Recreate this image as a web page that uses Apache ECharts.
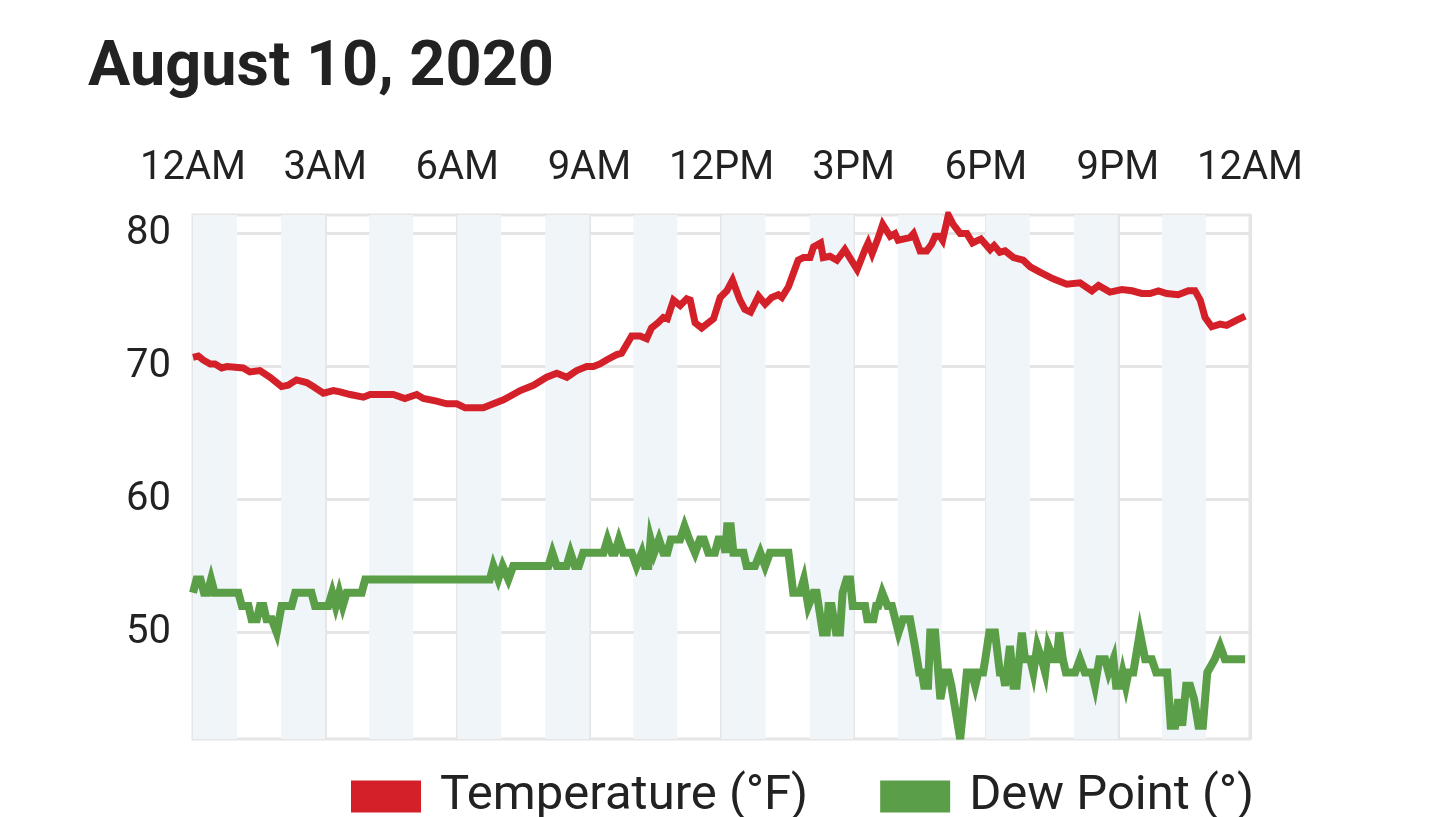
<!DOCTYPE html>
<html lang="en">
<head>
    <meta charset="UTF-8">
    <title>August 10, 2020</title>
    <script src="https://cdn.jsdelivr.net/npm/echarts@6/dist/echarts.min.js"></script>
    <style>
        html, body { margin: 0; padding: 0; background: #fff; }
    </style>
</head>
<body>
    <div id="main" style="width:1438px;height:817px;"></div>
    <script>
    // hour labels along the top axis
    var hourLabels = ['12AM', '3AM', '6AM', '9AM', '12PM', '3PM', '6PM', '9PM', '12AM'];
    var yTicks = [50, 60, 70, 80];

    // temperature (°F), hours since midnight
    var tempHours = [0, 0.12, 0.23, 0.39, 0.5, 0.65, 0.77, 1.14, 1.29, 1.52, 1.75, 2.01, 2.16, 2.35, 2.58, 2.73, 2.96,
        3.19, 3.34, 3.57, 3.87, 4.02, 4.17, 4.55, 4.81, 5.08, 5.23, 5.53, 5.76, 5.99, 6.18, 6.59, 6.82, 7.05, 7.27,
        7.43, 7.73, 8.03, 8.26, 8.49, 8.71, 8.94, 9.09, 9.24, 9.39, 9.62, 9.73, 9.96, 10.15, 10.3, 10.41, 10.56,
        10.68, 10.77, 10.91, 11.06, 11.21, 11.29, 11.4, 11.55, 11.82, 11.97, 12.12, 12.25, 12.42, 12.53, 12.66,
        12.84, 12.99, 13.14, 13.29, 13.37, 13.52, 13.74, 13.86, 14.01, 14.09, 14.25, 14.31, 14.46, 14.62, 14.8,
        14.93, 15.08, 15.26, 15.33, 15.42, 15.56, 15.66, 15.83, 15.94, 16.01, 16.28, 16.36, 16.51, 16.66, 16.77,
        16.85, 16.96, 17.02, 17.15, 17.26, 17.42, 17.57, 17.7, 17.89, 18.1, 18.19, 18.32, 18.44, 18.63, 18.85,
        19.01, 19.23, 19.53, 19.84, 20.14, 20.41, 20.56, 20.82, 21.09, 21.32, 21.54, 21.73, 21.92, 22.11, 22.37,
        22.6, 22.75, 22.87, 22.98, 23.13, 23.32, 23.47, 23.7, 23.89];
    var tempValues = [70.7, 70.8, 70.5, 70.2, 70.2, 69.9, 70.0, 69.9, 69.6, 69.7, 69.2, 68.5, 68.6, 69.0, 68.8, 68.5, 68.0,
        68.2, 68.1, 67.9, 67.7, 67.9, 67.9, 67.9, 67.6, 67.9, 67.6, 67.4, 67.2, 67.2, 66.9, 66.9, 67.2, 67.5, 67.9,
        68.2, 68.6, 69.2, 69.5, 69.2, 69.7, 70.0, 70.0, 70.2, 70.5, 70.9, 71.0, 72.3, 72.3, 72.1, 72.9, 73.3,
        73.7, 73.6, 75.0, 74.6, 75.1, 75.0, 73.3, 72.9, 73.6, 75.2, 75.7, 76.5, 75.0, 74.3, 74.1,
        75.3, 74.7, 75.2, 75.4, 75.2, 76.0, 78.0, 78.2, 78.2, 79.0, 79.3, 78.2, 78.3, 78.0, 78.8,
        78.1, 77.3, 78.8, 79.3, 78.5, 79.7, 80.7, 79.8, 80.0, 79.5, 79.7, 80.0, 78.7, 78.7, 79.2,
        79.8, 79.8, 79.5, 81.4, 80.7, 80.0, 80.0, 79.3, 79.6, 78.8, 79.1, 78.6, 78.7, 78.2, 78.0,
        77.5, 77.1, 76.6, 76.2, 76.3, 75.7, 76.1, 75.6, 75.8, 75.7, 75.5, 75.5, 75.7, 75.5, 75.4,
        75.7, 75.7, 75.0, 73.7, 73.0, 73.2, 73.1, 73.5, 73.8];

    // dew point (°), hours since midnight
    var dewHours = [0, 0.08, 0.17, 0.25, 0.33, 0.41, 0.49, 1.03, 1.11, 1.26, 1.33, 1.45, 1.52, 1.6, 1.67, 1.79, 1.9,
        2.01, 2.24, 2.32, 2.69, 2.77, 3.07, 3.16, 3.24, 3.32, 3.4, 3.49, 3.83, 3.91, 6.74, 6.82, 6.93, 7.03, 7.16,
        7.27, 8.07, 8.16, 8.26, 8.48, 8.57, 8.67, 8.76, 8.86, 9.32, 9.41, 9.51, 9.58, 9.67, 9.77, 9.96, 10.07,
        10.19, 10.26, 10.34, 10.39, 10.47, 10.58, 10.68, 10.77, 10.85, 11.06, 11.16, 11.27, 11.4, 11.51, 11.6,
        11.7, 11.85, 11.93, 12.03, 12.09, 12.13, 12.21, 12.27, 12.5, 12.57, 12.76, 12.88, 12.99, 13.1, 13.52,
        13.63, 13.78, 13.87, 13.97, 14.09, 14.16, 14.3, 14.39, 14.43, 14.5, 14.6, 14.69, 14.75, 14.84, 14.92,
        14.98, 15.26, 15.31, 15.45, 15.51, 15.56, 15.65, 15.77, 15.87, 16.02, 16.12, 16.28, 16.39, 16.49, 16.55,
        16.6, 16.69, 16.74, 16.85, 16.97, 17.08, 17.15, 17.22, 17.42, 17.57, 17.68, 17.76, 17.83, 17.94, 17.99,
        18.08, 18.21, 18.32, 18.39, 18.44, 18.55, 18.63, 18.7, 18.82, 18.89, 19.01, 19.08, 19.17, 19.27, 19.35,
        19.42, 19.54, 19.61, 19.67, 19.75, 19.82, 20.03, 20.14, 20.25, 20.41, 20.48, 20.58, 20.71, 20.79, 20.9,
        20.96, 21.05, 21.11, 21.18, 21.24, 21.35, 21.5, 21.62, 21.77, 21.87, 22.12, 22.2, 22.3, 22.37, 22.46,
        22.55, 22.64, 22.73, 22.83, 22.93, 23.03, 23.2, 23.32, 23.43, 23.89];
    var dewValues = [53, 54, 54, 53, 53, 54, 53, 53, 52, 52, 51, 51, 52, 52, 51, 51, 50,
        52, 52, 53, 53, 52, 52, 53, 52, 53, 52, 53, 53, 54, 54, 55, 54, 55, 54,
        55, 55, 56, 55, 55, 56, 55, 55, 56, 56, 57, 56, 56, 57, 56, 56, 55,
        56, 55, 55, 57, 56, 57, 56, 56, 57, 57, 58, 57, 56, 57, 57,
        56, 56, 57, 57, 56, 58, 58, 56, 56, 55, 55, 56, 55, 56, 56,
        53, 53, 54, 52, 53, 53, 50, 50, 52, 52, 50, 50, 53, 54, 54,
        52, 52, 51, 51, 52, 52, 53, 52, 52, 50, 51, 51, 49, 47, 47,
        46, 46, 50, 50, 45, 47, 47, 46, 42, 47, 47, 46, 47, 47, 48,
        50, 50, 47, 47, 46, 49, 46, 46, 50, 48, 48, 47, 49, 48, 47,
        49, 48, 48, 50, 48, 47, 47, 48, 47, 47, 46, 48, 48, 47, 48,
        46, 46, 47, 46, 47, 47, 50, 48, 48, 47, 47, 43, 43, 45, 43,
        46, 46, 45, 43, 43, 47, 48, 49, 48, 48];

    function zip(xs, ys) {
        return xs.map(function (x, i) { return [x, ys[i]]; });
    }

    var gridColor = '#e5e5e5';
    var font = 'Roboto';

    var myChart = echarts.init(document.getElementById('main'));
    myChart.setOption({
        animation: false,
        backgroundColor: '#fff',
        title: {
            text: 'August 10, 2020',
            left: 83,
            top: 33,
            textStyle: { fontFamily: font, fontSize: 63, fontWeight: 'bold', color: '#222' }
        },
        legend: {
            left: 346,
            top: 767,
            icon: 'rect',
            itemWidth: 70,
            itemHeight: 32,
            itemGap: 72,
            textStyle: { fontFamily: font, fontSize: 49, color: '#222', padding: [14, 0, 0, 14] }
        },
        grid: {
            left: 193,
            right: 188,
            top: 215,
            bottom: 78,
            show: true,
            borderColor: gridColor,
            borderWidth: 3,
            backgroundColor: 'transparent'
        },
        xAxis: [{
            type: 'value',
            position: 'top',
            min: 0,
            max: 24,
            interval: 3,
            axisLine: { show: false },
            axisTick: { show: false },
            axisLabel: {
                fontFamily: font, fontSize: 40, color: '#222', margin: 26,
                formatter: function (v) { return hourLabels[v / 3]; }
            },
            splitLine: { show: true, lineStyle: { color: gridColor, width: 3 } }
        }, {
            // hourly shading bands
            type: 'value',
            position: 'bottom',
            min: 0,
            max: 24,
            interval: 1,
            axisLine: { show: false },
            axisTick: { show: false },
            axisLabel: { show: false },
            splitLine: { show: false },
            splitArea: { show: true, areaStyle: { color: ['#f0f5fa', 'rgba(255,255,255,0)'] } }
        }],
        yAxis: {
            type: 'value',
            min: 42,
            max: 81.4,
            axisLine: { show: false },
            axisTick: { show: false, customValues: yTicks },
            axisLabel: {
                fontFamily: font, fontSize: 40, color: '#222', margin: 22,
                padding: [10, 0, 0, 0],
                customValues: yTicks
            },
            splitLine: { show: true, lineStyle: { color: gridColor, width: 3 } }
        },
        series: [{
            name: 'Temperature (°F)',
            type: 'line',
            data: zip(tempHours, tempValues),
            showSymbol: false,
            color: '#d42029',
            lineStyle: { width: 7, join: 'miter', miterLimit: 6 }
        }, {
            name: 'Dew Point (°)',
            type: 'line',
            data: zip(dewHours, dewValues),
            showSymbol: false,
            color: '#5b9e48',
            lineStyle: { width: 8, join: 'miter', miterLimit: 6 }
        }]
    });
    </script>
</body>
</html>
